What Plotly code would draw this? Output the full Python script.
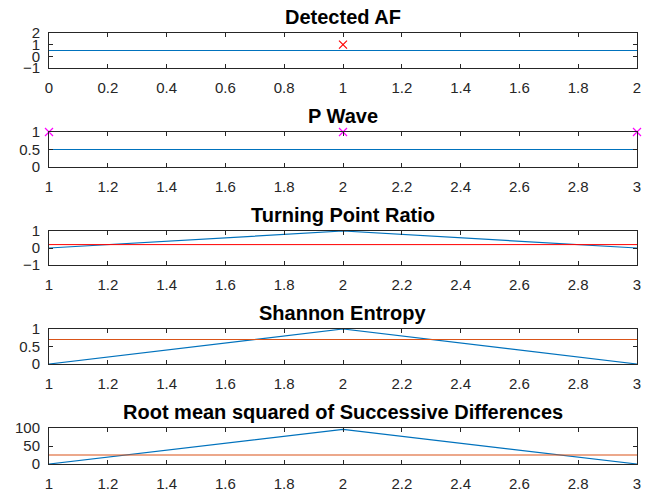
import plotly.graph_objects as go

# ---- data ----
titles = ["Detected AF", "P Wave", "Turning Point Ratio", "Shannon Entropy",
          "Root mean squared of Successive Differences"]

af_line_x = [0, 2]
af_line_y = [0.5, 0.5]
af_mark_x = [1]
af_mark_y = [1]

pw_line_x = [1, 3]
pw_line_y = [0.5, 0.5]
pw_mark_x = [1, 2, 3]
pw_mark_y = [1, 1, 1]

tpr_x = [1, 2, 3]
tpr_y = [0, 1, 0]
tpr_thr_x = [1, 3]
tpr_thr_y = [0.2, 0.2]

se_x = [1, 2, 3]
se_y = [0, 1, 0]
se_thr_x = [1, 3]
se_thr_y = [0.7, 0.7]

rm_x = [1, 2, 3]
rm_y = [0, 96, 0]
rm_thr_x = [1, 3]
rm_thr_y = [25, 25]

x_ranges = [[0, 2], [1, 3], [1, 3], [1, 3], [1, 3]]
y_ranges = [[-1, 2], [0, 1], [-1, 1], [0, 1], [0, 100]]
y_dticks = [1, 0.5, 1, 0.5, 50]

# ---- style ----
BLUE = "#0072BD"
ORANGE = "#D95319"
RED = "#FF0000"
MAG = "#FF00FF"
AX = "#262626"
FONT = "Liberation Sans, Arial, sans-serif"
W, H = 659, 495
OFF = 8  # page body margin
x0, x1 = (49 - OFF) / W, (637 - OFF) / W
tops = [33, 132, 231, 329, 428]
bots = [68, 167, 265, 364, 464]

fig = go.Figure()

def ax_name(i, k):
    return k if i == 0 else f"{k}{i+1}"

def add_line(i, x, y, color, width=1.2):
    fig.add_trace(go.Scatter(x=x, y=y, mode="lines", line=dict(color=color, width=width),
                             xaxis=ax_name(i, "x"), yaxis=ax_name(i, "y"),
                             showlegend=False, cliponaxis=False))

def add_marks(i, x, y, color):
    fig.add_trace(go.Scatter(x=x, y=y, mode="markers",
                             marker=dict(symbol="x-thin", size=8, line=dict(color=color, width=1.2)),
                             xaxis=ax_name(i, "x"), yaxis=ax_name(i, "y"),
                             showlegend=False, cliponaxis=False))

add_line(0, af_line_x, af_line_y, BLUE)
add_marks(0, af_mark_x, af_mark_y, RED)
add_line(1, pw_line_x, pw_line_y, BLUE)
add_marks(1, pw_mark_x, pw_mark_y, MAG)
add_line(2, tpr_x, tpr_y, BLUE)
add_line(2, tpr_thr_x, tpr_thr_y, RED, 1)
add_line(3, se_x, se_y, BLUE)
add_line(3, se_thr_x, se_thr_y, ORANGE)
add_line(4, rm_x, rm_y, BLUE)
add_line(4, rm_thr_x, rm_thr_y, ORANGE)

layout = dict(width=W, height=H, margin=dict(l=0, r=0, t=0, b=0, autoexpand=False),
              paper_bgcolor="white", plot_bgcolor="white",
              font=dict(family=FONT, size=15, color=AX), annotations=[])

for i in range(5):
    ydom = [1 - (bots[i] - OFF) / H, 1 - (tops[i] - OFF) / H]
    xa = "xaxis" if i == 0 else f"xaxis{i+1}"
    ya = "yaxis" if i == 0 else f"yaxis{i+1}"
    common = dict(showline=True, linecolor=AX, linewidth=1, mirror="allticks",
                  ticks="inside", ticklen=4, tickcolor=AX, tickwidth=1,
                  showgrid=False, zeroline=False, fixedrange=True, automargin=False,
                  tickfont=dict(family=FONT, size=15, color=AX))
    layout[xa] = dict(domain=[x0, x1], range=x_ranges[i], dtick=0.2, tick0=0,
                      anchor=ax_name(i, "y"), ticklabelstandoff=6, **common)
    layout[ya] = dict(domain=ydom, range=y_ranges[i], dtick=y_dticks[i], tick0=0,
                      anchor=ax_name(i, "x"), ticklabelstandoff=5, **common)
    layout["annotations"].append(dict(
        text=f"<b>{titles[i]}</b>", x=(x0 + x1) / 2, y=ydom[1], xref="paper", yref="paper",
        xanchor="center", yanchor="bottom", yshift=3, showarrow=False,
        font=dict(family=FONT, size=20, color="black")))

fig.update_layout(**layout)
fig.write_html("out.html")
